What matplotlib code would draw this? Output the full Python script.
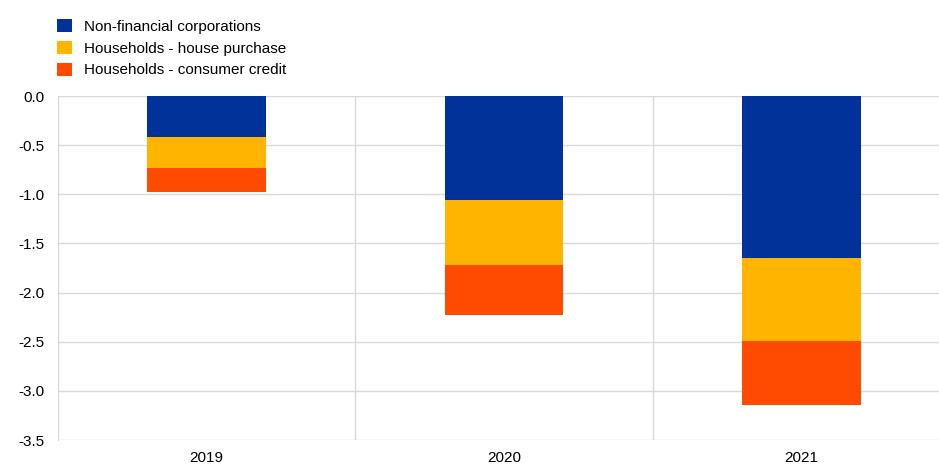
import matplotlib.pyplot as plt
from matplotlib.patches import Patch
import numpy as np

plt.rcParams['font.family'] = ['Liberation Sans', 'DejaVu Sans']

# data
years = ['2019', '2020', '2021']
nfc = [-0.42, -1.06, -1.65]
house = [-0.31, -0.66, -0.84]
consumer = [-0.25, -0.51, -0.65]

series = [nfc, house, consumer]
labels = ['Non-financial corporations', 'Households - house purchase', 'Households - consumer credit']
colors = ['#003299', '#FFB400', '#FF4B00']

fig = plt.figure(figsize=(9.39, 4.65), dpi=100)
ax = fig.add_axes([58 / 939, 1 - 440 / 465, 1 - 58 / 939, 344 / 465])

x = np.arange(len(years))
bottom = np.zeros(len(years))
for vals, c in zip(series, colors):
    ax.bar(x, vals, width=0.4, bottom=bottom, color=c, zorder=3)
    bottom += np.array(vals)

ax.set_ylim(-3.5, 0)
ax.set_yticks(np.arange(-3.5, 0.01, 0.5))
ax.set_yticklabels(['%.1f' % v for v in np.arange(-3.5, 0.01, 0.5)], fontsize=11)
ax.set_xlim(-0.5, 2.463)
ax.set_xticks(x)
ax.set_xticklabels(years, fontsize=11)
ax.set_xticks([0.5, 1.5], minor=True)
ax.tick_params(axis='both', which='both', length=0)
ax.tick_params(axis='y', pad=10)
ax.tick_params(axis='x', pad=8)
ax.grid(axis='y', color='#d9d9d9', linewidth=1, zorder=0)
ax.grid(axis='x', which='minor', color='#d9d9d9', linewidth=1, zorder=0)

for s in ['top', 'right', 'bottom']:
    ax.spines[s].set_visible(False)
ax.spines['left'].set_color('#d9d9d9')

handles = [Patch(facecolor=c, edgecolor='none') for c in colors]
fig.legend(handles, labels, loc='upper left', bbox_to_anchor=(51 / 939, 1 - 13 / 465),
           frameon=False, fontsize=11, handlelength=0.95, handleheight=0.95,
           handletextpad=0.8, labelspacing=0.45, borderaxespad=0)

fig.savefig('out.png', dpi=100)
